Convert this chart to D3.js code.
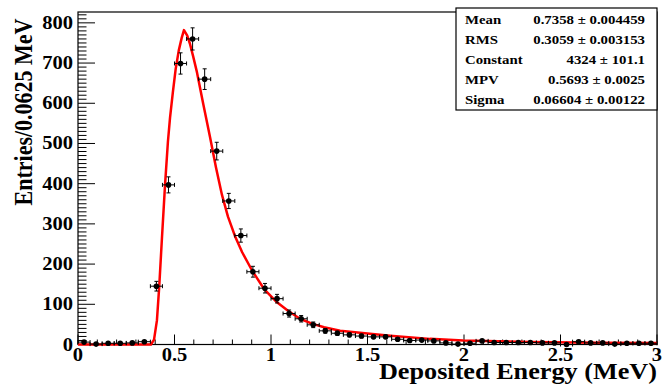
<!DOCTYPE html>
<html>
<head>
<meta charset="utf-8">
<script src="https://cdn.jsdelivr.net/npm/d3@7"></script>
<style>
  body { margin: 0; background: #fff; }
  svg text { font-family: "Liberation Serif", "Times New Roman", serif; font-weight: bold; }
</style>
</head>
<body>
<svg id="chart" width="670" height="385"></svg>
<script>
// histogram: 48 bins of 0.0625 MeV from 0 to 3
const binWidth = 0.0625
const counts = [6, 1, 3, 3, 4, 7, 145, 397, 699, 760, 660, 481, 357, 271, 181, 140,
    114, 77, 64, 49, 34, 28, 24, 21, 19, 19, 13, 10, 11, 9, 4, 1,
    3, 9, 5, 5, 5, 5, 4, 4, 0, 7, 4, 4, 1, 3, 3, 3]

// landau fit curve
const fitE = [0, 0.378, 0.394, 0.409, 0.421, 0.435, 0.451, 0.466, 0.477, 0.491, 0.506, 0.522,
    0.537, 0.549, 0.566, 0.580, 0.597, 0.615, 0.649, 0.684, 0.715, 0.746, 0.777, 0.813,
    0.850, 0.902, 0.964, 1.026, 1.088, 1.150, 1.212, 1.275, 1.358, 1.461, 1.617, 1.824,
    1.995, 2.342, 2.705, 3.0]
const fitVal = [0, 0, 12, 60, 145, 265, 397, 505, 565, 625, 685, 731,
    762, 782, 768, 748, 716, 680, 598, 516, 440, 372, 318, 270,
    230, 184, 138, 107, 84, 64, 52, 43, 34, 29, 22, 14,
    10, 6.5, 4.5, 3.5]

const statNames = ["Mean", "RMS", "Constant", "MPV", "Sigma"]
const statValues = ["0.7358 \u00b1 0.004459", "0.3059 \u00b1 0.003153", "4324 \u00b1 101.1",
    "0.5693 \u00b1 0.0025", "0.06604 \u00b1 0.00122"]

const yTicks = [0, 100, 200, 300, 400, 500, 600, 700, 800]
const xTicks = [0, 0.5, 1, 1.5, 2, 2.5, 3]

const frame = {left: 78, right: 657, top: 12, bottom: 344.5}
const stretch = 1.14   // the text in the picture is a bit wide
const svg = d3.select("#chart")

let xScale = d3.scaleLinear().domain([0, 3]).range([frame.left, frame.right])
let yScale = d3.scaleLinear().domain([0, 827]).range([frame.bottom, frame.top])

function place(x, y) {
    return `translate(${x},${y}) scale(${stretch},1)`
}

// frame
svg.append("rect")
    .attr("x", frame.left).attr("y", frame.top)
    .attr("width", frame.right - frame.left).attr("height", frame.bottom - frame.top)
    .attr("fill", "none").attr("stroke", "black").attr("stroke-width", 1.2)

// y ticks (inside, pointing right)
let yMinor = d3.range(0, 827, 10)
svg.append("g").selectAll("line")
    .data(yMinor)
    .join("line")
    .attr("x1", frame.left)
    .attr("x2", d => frame.left + (d % 100 === 0 ? 17 : 8.5))
    .attr("y1", d => yScale(d)).attr("y2", d => yScale(d))
    .attr("stroke", "black").attr("stroke-width", 1)

svg.append("g").selectAll("text")
    .data(yTicks)
    .join("text")
    .attr("transform", d => place(73, yScale(d) + 6))
    .attr("text-anchor", "end")
    .attr("font-size", 18)
    .text(d => d)

// x ticks (inside, pointing up)
let xMinor = d3.range(0, 31).map(i => i / 10)
svg.append("g").selectAll("line")
    .data(xMinor)
    .join("line")
    .attr("x1", d => xScale(d)).attr("x2", d => xScale(d))
    .attr("y1", frame.bottom)
    .attr("y2", (d, i) => frame.bottom - (i % 5 === 0 ? 10 : 5))
    .attr("stroke", "black").attr("stroke-width", 1)

svg.append("g").selectAll("text")
    .data(xTicks)
    .join("text")
    .attr("transform", d => place(xScale(d), 361))
    .attr("text-anchor", "middle")
    .attr("font-size", 18)
    .text(d => d)

// fit curve
let line = d3.line()
    .x((d, i) => xScale(fitE[i]))
    .y(d => yScale(d))
svg.append("path")
    .attr("d", line(fitVal))
    .attr("fill", "none")
    .attr("stroke", "#ff0000")
    .attr("stroke-width", 2.5)
    .attr("stroke-linejoin", "round")

// data points with error bars
let pts = counts.map((c, i) => ({x: (i + 0.5) * binWidth, y: c, err: Math.sqrt(c)}))
let g = svg.append("g").attr("stroke", "black").attr("stroke-width", 1)

g.selectAll(".ey")
    .data(pts)
    .join("line")
    .attr("x1", d => xScale(d.x)).attr("x2", d => xScale(d.x))
    .attr("y1", d => yScale(d.y - d.err)).attr("y2", d => yScale(d.y + d.err))
g.selectAll(".ex")
    .data(pts)
    .join("line")
    .attr("x1", d => xScale(d.x - binWidth / 2)).attr("x2", d => xScale(d.x + binWidth / 2))
    .attr("y1", d => yScale(d.y)).attr("y2", d => yScale(d.y))
// end caps
g.selectAll(".capTop")
    .data(pts.filter(d => d.err > 1))
    .join("path")
    .attr("d", d => {
        let x = xScale(d.x), y1 = yScale(d.y + d.err), y2 = yScale(d.y - d.err)
        return `M${x - 2},${y1}H${x + 2}M${x - 2},${y2}H${x + 2}`
    })
g.selectAll(".capSide")
    .data(pts)
    .join("path")
    .attr("d", d => {
        let y = yScale(d.y), x1 = xScale(d.x - binWidth / 2), x2 = xScale(d.x + binWidth / 2)
        return `M${x1},${y - 2}V${y + 2}M${x2},${y - 2}V${y + 2}`
    })
svg.append("g").selectAll("circle")
    .data(pts)
    .join("circle")
    .attr("cx", d => xScale(d.x))
    .attr("cy", d => yScale(d.y))
    .attr("r", 2.8)
    .attr("fill", "black")

// axis titles
svg.append("text")
    .attr("transform", `translate(32,112) scale(${stretch},1) rotate(-90)`)
    .attr("text-anchor", "middle")
    .attr("font-size", 22)
    .text("Entries/0.0625 MeV")

svg.append("text")
    .attr("transform", place(657, 379))
    .attr("text-anchor", "end")
    .attr("font-size", 23)
    .text("Deposited Energy (MeV)")

// stats box
let box = svg.append("g")
box.append("rect")
    .attr("x", 456).attr("y", 8)
    .attr("width", 201).attr("height", 102)
    .attr("fill", "white").attr("stroke", "black").attr("stroke-width", 1.2)
box.selectAll(".name")
    .data(statNames)
    .join("text")
    .attr("transform", (d, i) => place(465, 24 + i * 20))
    .attr("font-size", 13)
    .text(d => d)
box.selectAll(".val")
    .data(statValues)
    .join("text")
    .attr("transform", (d, i) => place(645, 24 + i * 20))
    .attr("text-anchor", "end")
    .attr("font-size", 13)
    .text(d => d)
</script>
</body>
</html>
